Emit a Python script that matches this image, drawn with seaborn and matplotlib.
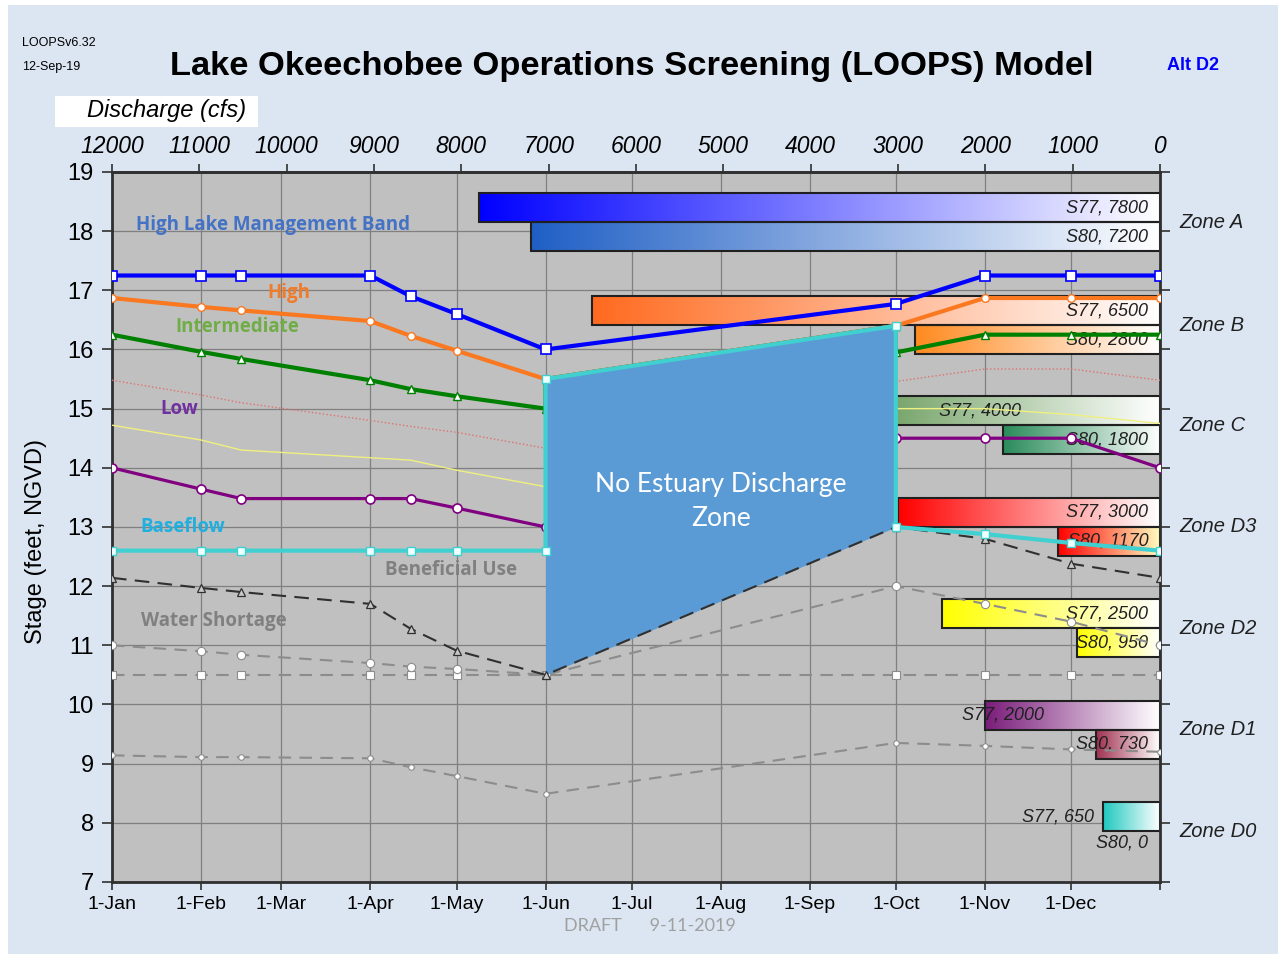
import numpy as np
import matplotlib
matplotlib.use('Agg')
import matplotlib.pyplot as plt
import seaborn as sns
from matplotlib.colors import to_rgb
from matplotlib.patches import Rectangle

# dias del año de los puntos de control (1-Jan = 0)
days = [0, 31, 45, 90, 104, 120, 151, 273, 304, 334, 365]
days_jump = [0, 31, 45, 90, 104, 120, 151, 151, 273, 273, 304, 334, 365]

# curvas de etapa (pies, NGVD)
hlmb = [17.25, 17.25, 17.25, 17.25, 16.9, 16.6, 16.0, 16.77, 17.25, 17.25, 17.25]
high = [16.87, 16.72, 16.66, 16.48, 16.23, 15.98, 15.5, 16.4, 16.87, 16.87, 16.87]
intermediate = [16.25, 15.96, 15.84, 15.48, 15.33, 15.21, 15.0, 15.5, 16.4, 15.95, 16.25, 16.25, 16.25]
low = [14.0, 13.64, 13.48, 13.48, 13.48, 13.32, 13.0, 14.5, 14.5, 14.5, 14.0]
baseflow = [12.6, 12.6, 12.6, 12.6, 12.6, 12.6, 12.6, 15.5, 16.4, 13.0, 12.88, 12.73, 12.6]
beneficial = [12.14, 11.97, 11.9, 11.7, 11.28, 10.91, 10.5, 13.0, 12.8, 12.38, 12.14]
shortage = [11.0, 10.9, 10.84, 10.7, 10.64, 10.6, 10.5, 12.0, 11.7, 11.4, 11.0]
floor_line = [10.5, 10.5, 10.5, 10.5, 10.5, 10.5, 10.5, 10.5, 10.5, 10.5, 10.5]
bottom_line = [9.14, 9.11, 9.11, 9.09, 8.94, 8.79, 8.49, 9.35, 9.3, 9.24, 9.2]
red_thin = [15.48, 15.23, 15.1, 14.8, 14.7, 14.6, 14.33, 15.46, 15.67, 15.67, 15.48]
yellow_thin = [14.72, 14.47, 14.3, 14.17, 14.13, 13.96, 13.68, 15.0, 15.0, 14.9, 14.75]

# zonas y descargas (cfs)
zones = ['Zone A', 'Zone B', 'Zone C', 'Zone D3', 'Zone D2', 'Zone D1', 'Zone D0']
zone_stage = [18.15, 16.41, 14.72, 13.0, 11.29, 9.57, 7.86]
s77_flow = [7800, 6500, 4000, 3000, 2500, 2000, 650]
s80_flow = [7200, 2800, 1800, 1170, 950, 730, 0]
s77_color = ['#0000FF', '#FF6A1F', '#4F8A3F', '#FF0000', '#FFFF00', '#7A1C7A', '#1FC8C0']
s80_color = ['#1F5FC5', '#FF8A1F', '#2A8C5A', '#FF0000', '#FFFF00', '#A03050', '#FFFFFF']
s80_end = ['#FFFFFF', '#FFFFFF', '#FFFFFF', '#FFFFC0', '#FFFFFF', '#FFFFFF', '#FFFFFF']

month_ticks = [0, 31, 59, 90, 120, 151, 181, 212, 243, 273, 304, 334, 365]
month_labels = ['1-Jan', '1-Feb', '1-Mar', '1-Apr', '1-May', '1-Jun', '1-Jul',
                '1-Aug', '1-Sep', '1-Oct', '1-Nov', '1-Dec', '']
discharge_ticks = list(range(12000, -1, -1000))

MAXQ = 12000
NDAYS = 365


def day2q(d):
    return MAXQ * (1 - np.asarray(d, dtype=float) / NDAYS)


def q2day(q):
    return NDAYS * (1 - np.asarray(q, dtype=float) / MAXQ)


def gradient(c0, c1, n=256):
    t = np.linspace(0, 1, n)[None, :, None]
    return (1 - t) * np.array(to_rgb(c0)) + t * np.array(to_rgb(c1))


sns.set_style('white')
plt.rcParams['font.family'] = ['Liberation Sans', 'DejaVu Sans']
plt.rcParams['text.color'] = 'black'
plt.rcParams['xtick.color'] = '#303030'
plt.rcParams['ytick.color'] = '#303030'
plt.rcParams['axes.labelcolor'] = 'black'

fig = plt.figure(figsize=(12.86, 9.57), dpi=100, facecolor='white')
fig.patches.append(Rectangle((0.006, 0.003), 0.988, 0.992, transform=fig.transFigure,
                             facecolor='#DCE6F2', edgecolor='none', zorder=0))

ax = fig.add_axes([0.0871, 0.0784, 0.8149, 0.7419])
ax.set_zorder(2)
ax.set_facecolor('#C0C0C0')

# barras con degradado
bar_h = 0.49
for i in range(len(zones)):
    y0 = zone_stage[i]
    if s77_flow[i] > 0:
        left = q2day(s77_flow[i])
        ax.imshow(gradient(s77_color[i], '#FFFFFF'), extent=[left, NDAYS, y0, y0 + bar_h],
                  aspect='auto', zorder=2, interpolation='bilinear')
        ax.add_patch(Rectangle((left, y0), NDAYS - left, bar_h, fill=False,
                               edgecolor='#202020', lw=1.5, zorder=2.5))
    if s80_flow[i] > 0:
        left = q2day(s80_flow[i])
        ax.imshow(gradient(s80_color[i], s80_end[i]), extent=[left, NDAYS, y0 - bar_h, y0],
                  aspect='auto', zorder=2, interpolation='bilinear')
        ax.add_patch(Rectangle((left, y0 - bar_h), NDAYS - left, bar_h, fill=False,
                               edgecolor='#202020', lw=1.5, zorder=2.5))

# etiquetas de barras
lab_kw = dict(fontsize=13, style='italic', color='#202020', zorder=3, va='center')
for i in range(len(zones)):
    y0 = zone_stage[i]
    if i == 2:
        ax.text(288, y0 + bar_h / 2, f'S77, {s77_flow[i]}', ha='left', **lab_kw)
    elif i == 5:
        ax.text(296, y0 + bar_h / 2, f'S77, {s77_flow[i]}', ha='left', **lab_kw)
    elif i == 6:
        ax.text(342, y0 + bar_h / 2, f'S77, {s77_flow[i]}', ha='right', **lab_kw)
    else:
        ax.text(361, y0 + bar_h / 2, f'S77, {s77_flow[i]}', ha='right', **lab_kw)
    if i == 6:
        ax.text(361, y0 - 0.2, f'S80, {s80_flow[i]}', ha='right', **lab_kw)
    else:
        ax.text(361, y0 - bar_h / 2, f'S80, {s80_flow[i]}', ha='right', **lab_kw)

# lineas finas
sns.lineplot(x=days, y=red_thin, ax=ax, color='#E07070', linewidth=1, linestyle=':',
             estimator=None, sort=False, zorder=3)
sns.lineplot(x=days, y=yellow_thin, ax=ax, color='#F0F080', linewidth=1,
             estimator=None, sort=False, zorder=3)

# lineas de escasez / uso
sns.lineplot(x=days, y=bottom_line, ax=ax, color='#8C8C8C', linewidth=1.5, linestyle=(0, (6, 4)),
             marker='o', markersize=4, markerfacecolor='white', markeredgecolor='#8C8C8C',
             markeredgewidth=0.8, estimator=None, sort=False, zorder=4)
sns.lineplot(x=days, y=floor_line, ax=ax, color='#8C8C8C', linewidth=1.5, linestyle=(0, (6, 4)),
             marker='s', markersize=6, markerfacecolor='white', markeredgecolor='#8C8C8C',
             markeredgewidth=0.8, estimator=None, sort=False, zorder=4)
sns.lineplot(x=days, y=shortage, ax=ax, color='#8C8C8C', linewidth=1.5, linestyle=(0, (6, 4)),
             marker='o', markersize=6, markerfacecolor='white', markeredgecolor='#8C8C8C',
             markeredgewidth=0.8, estimator=None, sort=False, zorder=4)

sns.lineplot(x=days, y=low, ax=ax, color='#800080', linewidth=2.3, marker='o', markersize=6.5,
             markerfacecolor='white', markeredgecolor='#800080', markeredgewidth=1.2,
             estimator=None, sort=False, zorder=4)
sns.lineplot(x=days_jump, y=intermediate, ax=ax, color='#008000', linewidth=3, marker='^',
             markersize=5.5, markerfacecolor='white', markeredgecolor='#008000', markeredgewidth=1,
             estimator=None, sort=False, zorder=4)
sns.lineplot(x=days, y=high, ax=ax, color='#FA7820', linewidth=3, marker='o', markersize=5.5,
             markerfacecolor='white', markeredgecolor='#FA7820', markeredgewidth=1,
             estimator=None, sort=False, zorder=4)

# zona sin descarga al estuario
ax.fill_between([days[6], days[7]], [beneficial[6], beneficial[7]], [baseflow[7], baseflow[8]],
                color='#5B9BD5', lw=0, zorder=5)

sns.lineplot(x=days, y=beneficial, ax=ax, color='#303030', linewidth=1.5, linestyle=(0, (7, 4)),
             marker='^', markersize=6, markerfacecolor='#C8C8C8', markeredgecolor='#303030',
             markeredgewidth=0.9, estimator=None, sort=False, zorder=6)
sns.lineplot(x=days_jump, y=baseflow, ax=ax, color='#40D0D0', linewidth=3, marker='s',
             markersize=6, markerfacecolor='#F0FFFF', markeredgecolor='#40D0D0', markeredgewidth=1,
             estimator=None, sort=False, zorder=6)
sns.lineplot(x=days, y=hlmb, ax=ax, color='#0000FF', linewidth=3, marker='s', markersize=7,
             markerfacecolor='white', markeredgecolor='#0000FF', markeredgewidth=1.2,
             estimator=None, sort=False, zorder=7)

# textos dentro del grafico
tkw = dict(fontsize=13.5, fontweight='bold', family=['Open Sans', 'DejaVu Sans'], va='center', ha='left', zorder=8)
ax.text(8.5, 18.1, 'High Lake Management Band', color='#4472C4', **tkw)
ax.text(54, 16.95, 'High', color='#F07B2A', **tkw)
ax.text(22, 16.38, 'Intermediate', color='#70AD47', **tkw)
ax.text(17, 15.0, 'Low', color='#7030A0', **tkw)
ax.text(10, 13.0, 'Baseflow', color='#1FB0E0', **tkw)
ax.text(95, 12.27, 'Beneficial Use', color='#808080', **tkw)
ax.text(10, 11.41, 'Water Shortage', color='#808080', **tkw)
ax.text(212, 13.43, 'No Estuary Discharge\nZone', color='white', fontsize=19,
        family=['Lato', 'DejaVu Sans'], ha='center', va='center', linespacing=1.45, zorder=8)

# ejes
ax.set_xlim(0, NDAYS)
ax.set_ylim(7, 19)
ax.set_xticks(month_ticks)
ax.set_xticklabels(month_labels, fontsize=14, color='black')
ax.set_yticks(range(7, 20))
ax.set_yticklabels([str(v) for v in range(7, 20)], color='black')
ax.tick_params(axis='y', labelsize=17, direction='out', length=7, left=True, right=True,
               color='#303030', width=1.2, pad=6)
ax.tick_params(axis='x', direction='out', length=6, bottom=True, color='#303030', width=1.2, pad=4)
ax.grid(True, color='#808080', lw=0.9)
ax.set_axisbelow(True)
for s in ax.spines.values():
    s.set_color('#303030')
    s.set_linewidth(2)
ax.set_ylabel('Stage (feet, NGVD)', fontsize=17)
ax.yaxis.set_label_coords(-0.062, 0.48)

secax = ax.secondary_xaxis('top', functions=(day2q, q2day))
secax.set_xticks(discharge_ticks)
secax.set_xticklabels([str(t) for t in discharge_ticks], fontsize=16.5, style='italic', color='black')
secax.tick_params(direction='out', length=6, color='#303030', width=1.2, pad=4)
secax.spines['top'].set_linewidth(2)

# etiquetas de zona
for z, y in zip(zones, zone_stage):
    ax.text(1.019, y, z, transform=ax.get_yaxis_transform(), fontsize=14.5, style='italic',
            color='#202020', va='center', ha='left')

# textos de la figura
fig.patches.append(Rectangle((55 / 1286, 1 - 127 / 957), 203 / 1286, 31 / 957,
                             transform=fig.transFigure, facecolor='white', edgecolor='none', zorder=1))
fig.text(87 / 1286, 1 - 111 / 957, 'Discharge (cfs)', fontsize=17, style='italic', va='center', ha='left')
fig.text(170 / 1286, 1 - 67 / 957, 'Lake Okeechobee Operations Screening (LOOPS) Model',
         fontsize=24.8, fontweight='bold', va='center', ha='left')
fig.text(22 / 1286, 1 - 43 / 957, 'LOOPSv6.32', fontsize=9, va='center', ha='left')
fig.text(22 / 1286, 1 - 67 / 957, '12-Sep-19', fontsize=9, va='center', ha='left')
fig.text(1167 / 1286, 1 - 66 / 957, 'Alt D2', fontsize=13, fontweight='bold', color='#0000FF',
         va='center', ha='left')
fig.text(650 / 1286, 1 - 926 / 957, 'DRAFT      9-11-2019', fontsize=13, color='#A0A0A0',
         family=['Lato', 'DejaVu Sans'], va='center', ha='center')

plt.savefig('out.png', dpi=100, facecolor=fig.get_facecolor())
